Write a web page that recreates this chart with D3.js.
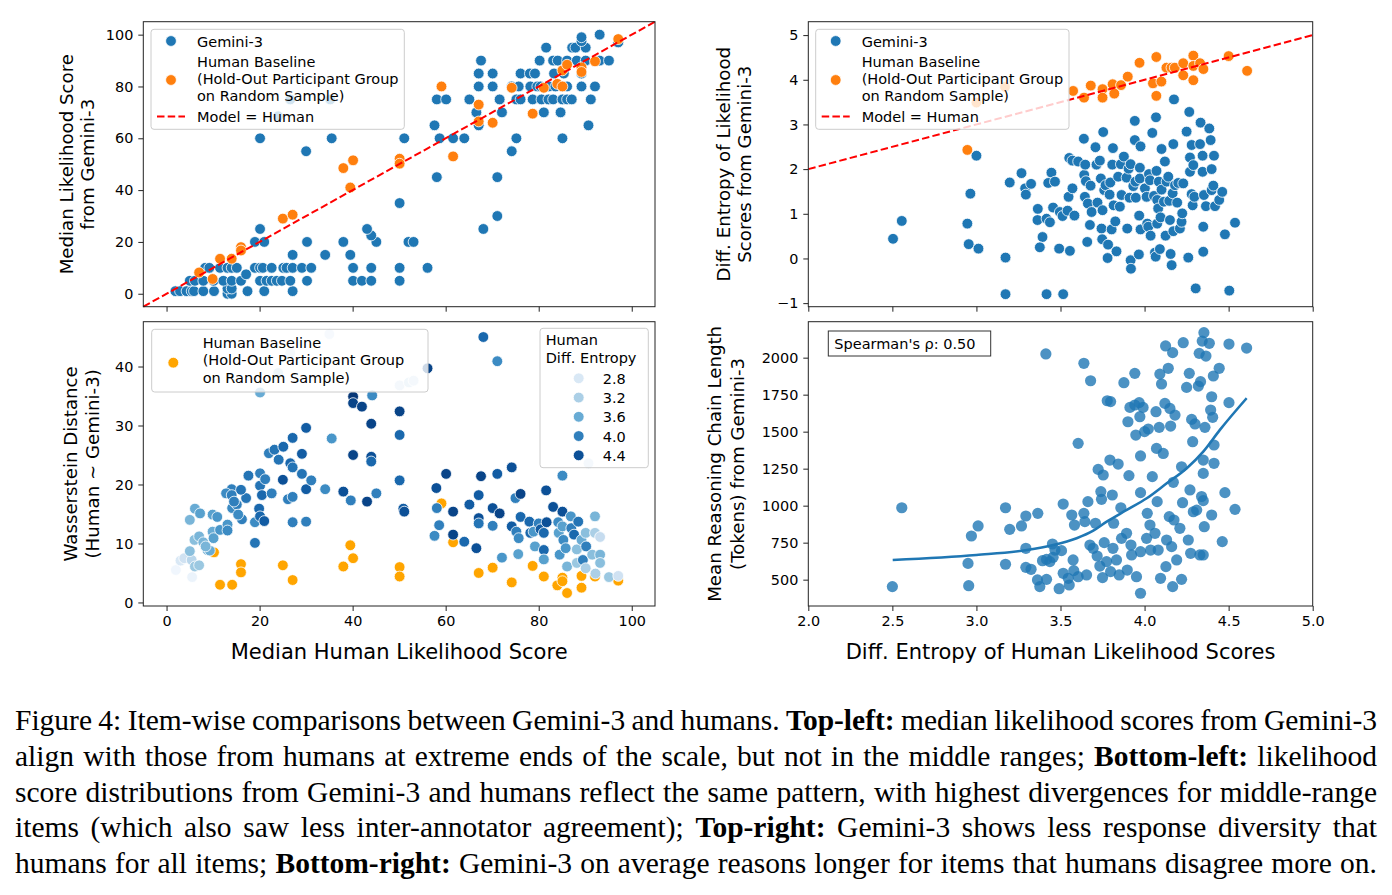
<!DOCTYPE html>
<html>
<head>
<meta charset="utf-8">
<script src="https://cdn.jsdelivr.net/npm/d3@7"></script>
<style>
body { margin: 0; background: #fff; width: 1392px; height: 895px; overflow: hidden; position: relative; }
#chart { position: absolute; left: 0; top: 0; }
#caption { position: absolute; left: 15px; top: 703px; width: 1362px;
  font-family: "Liberation Serif", "Times New Roman", serif; font-size: 29.5px; line-height: 35.8px; color: #000; }
#caption div { text-align: justify; text-align-last: justify; word-spacing: -2px; }
</style>
</head>
<body>
<div id="chart"></div>
<div id="caption"></div>
<script>
// ---------- data ----------
// Top-left: median human score vs median Gemini-3 score
const tlGemini = [
  [1.9,1],[2.9,1],[4.3,1],[5.4,1],[5.9,1],[7.9,1],[10.2,1],[13.1,0],[14,0],[13.1,2],[14,2],[17.4,1],[21,1],[27.1,1],
  [5,5],[6.1,5],[7.9,5],[10.1,5],[12.2,5],[14,5],[16,5],[20.1,5],[21.5,5],[22.6,5],[23.7,5],[24.8,5],[26.6,5],[30.2,5],[40.1,5],[42,5],[44,5],[50.1,5],
  [8.3,10],[9.2,10],[11.5,10],[13.1,10],[14,10],[15.1,10],[19,10],[20.1,10],[20.7,10],[22.6,10],[25.1,10],[25.8,10],[27.1,10],[29.1,10],[31.1,10],[40.1,10],[44,10],[50.1,10],[56.1,10],
  [17.1,7.5],[27.1,15],[34.1,15],[39.5,15],
  [19,20],[21,20],[30.2,20],[38,20],[45.1,20],[52,20],[53.1,20],[44,22.5],[20.1,25],[43.1,25],[68.1,25],
  [71.1,30],[50.1,35],[58.1,45],[71.1,45],[30,55],[74.2,55],
  [20.1,60],[35.5,60],[51.1,60],[58.7,60],[61.6,60],[64,60],[75.2,60],[85.1,60],
  [57.6,65],[67.1,65],[90.7,65],[24,68.5],
  [66.6,70],[72.1,70],[81.1,70],[84.7,70],
  [26.6,75],[35.2,75],[58.1,75],[60.1,75],[65.1,75],[71.6,75],[75.2,75],[76.1,75],[78.7,75],[80.6,75],[82.1,75],[83.1,75],[85.1,75],[86.1,75],[87.1,75],[91.2,75],
  [67.1,80],[70.1,80],[74.2,80],[75.7,80],[78.2,80],[79.7,80],[80.4,80],[82.2,80],[83.6,80],[85.1,80],[86.1,80],[89.2,80],[92.1,80],
  [67.1,85],[70.1,85],[76.1,85],[78.1,85],[79.2,85],[83.3,85],[85.4,85],[89.2,85],
  [67.6,90],[80.2,90],[83.1,90],[84.1,90],[86.1,90],[88.2,90],[90.1,90],[93.1,90],[95.1,90],
  [81.6,95],[87.2,95],[87.9,95],[90.1,95],[89.2,97.5],[89.2,99],[93.1,100],[97.1,97]
];
const tlHuman = [
  [7,8.2],[9.9,5.7],[11.5,13.5],[14,13.5],[16,18],[16,16.7],[25,29],[27.1,30.5],[38,48.5],[40.1,51.5],[39.5,41],
  [50.1,52.1],[50.1,50.2],[59.1,80],[61.6,53],[67.1,73],[67.1,66.5],[70.1,66],[74.2,79.5],[78.7,69.5],[81.1,79.5],
  [84,81],[85.1,80],[85.1,86.2],[86.1,88.4],[89.2,87.4],[89.2,85.6],[92.1,89.7],[97.1,98.3]
];

// Top-right: human diff. entropy vs Gemini-3 diff. entropy
const trGemini = [
  [2.504,0.44],[2.556,0.84],[2.946,0.78],[2.954,0.32],[2.964,1.45],[3.0,2.30],[3.012,0.22],[3.173,0.02],[3.173,-0.80],
  [3.198,1.70],[3.268,1.91],[3.29,1.57],[3.294,1.43],[3.325,1.67],[3.365,1.11],[3.363,0.86],[3.393,0.48],[3.377,0.25],
  [3.417,0.89],[3.417,-0.80],[3.437,0.81],[3.446,1.92],[3.427,1.69],[3.467,1.72],[3.456,1.14],[3.496,1.04],[3.492,0.22],
  [3.512,0.95],[3.516,-0.80],[3.542,1.07],[3.556,0.17],[3.548,1.38],[3.552,2.25],[3.571,2.19],[3.571,1.57],[3.583,0.96],
  [3.605,2.17],[3.639,2.68],[3.641,1.87],[3.647,2.10],[3.651,1.73],[3.645,1.38],[3.659,0.37],[3.663,1.23],[3.675,0.75],
  [3.679,1.63],[3.685,1.04],[3.708,2.49],[3.714,2.10],[3.72,1.25],[3.734,2.19],[3.74,1.79],[3.744,0.67],[3.748,0.43],
  [3.75,1.08],[3.754,2.83],[3.76,1.53],[3.768,1.64],[3.783,0.31],[3.78,0.01],[3.792,1.43],[3.796,1.70],[3.804,0.65],
  [3.808,2.10],[3.812,2.47],[3.816,1.19],[3.826,0.83],[3.833,0.16],[3.843,1.83],[3.853,1.16],[3.859,2.11],[3.863,1.42],
  [3.877,2.28],[3.893,1.81],[3.897,0.67],[3.905,2.01],[3.911,1.36],[3.917,2.11],[3.917,-0.04],[3.919,-0.23],[3.933,1.62],
  [3.942,2.65],[3.942,3.08],[3.946,1.72],[3.948,1.36],[3.968,0.96],[3.966,0.09],[3.972,2.03],[3.972,1.79],[3.976,2.51],
  [3.976,0.65],[4.002,1.57],[4.012,1.38],[4.016,0.78],[4.022,0.71],[4.026,1.89],[4.032,1.75],[4.036,0.51],[4.046,2.81],
  [4.056,1.40],[4.062,0.13],[4.066,0.04],[4.068,3.16],[4.071,1.96],[4.075,1.31],[4.075,0.78],[4.081,1.12],[4.085,1.72],
  [4.091,0.21],[4.095,0.92],[4.101,2.45],[4.101,1.54],[4.115,1.27],[4.121,2.17],[4.125,0.51],[4.131,1.72],[4.141,1.83],
  [4.147,1.29],[4.151,0.86],[4.155,0.10],[4.161,-0.15],[4.167,1.46],[4.171,2.56],[4.175,3.56],[4.171,0.61],[4.181,1.64],
  [4.194,1.25],[4.2,1.69],[4.21,0.67],[4.22,0.82],[4.224,1.01],[4.23,1.68],[4.25,2.84],[4.26,0.02],[4.266,3.28],
  [4.27,1.94],[4.27,2.26],[4.28,2.54],[4.28,1.44],[4.286,1.19],[4.29,2.09],[4.296,1.38],[4.304,-0.67],[4.33,2.56],
  [4.333,3.04],[4.345,2.30],[4.345,1.94],[4.349,0.71],[4.349,0.15],[4.353,1.42],[4.365,1.17],[4.385,2.91],[4.393,2.65],
  [4.399,2.0],[4.399,1.53],[4.409,1.63],[4.413,2.30],[4.419,1.17],[4.444,1.31],[4.462,1.49],[4.478,0.54],[4.504,-0.72],
  [4.538,0.80]
];
const trHuman = [
  [2.946,2.43],[3.0,3.49],[3.17,3.84],[3.575,3.75],[3.64,3.60],[3.68,3.87],[3.75,3.79],[3.75,3.60],[3.81,3.90],
  [3.82,3.69],[3.86,3.88],[3.90,4.07],[3.97,4.38],[4.05,3.92],[4.07,3.64],[4.07,4.51],[4.10,3.96],[4.13,4.27],
  [4.16,4.27],[4.18,4.27],[4.23,4.37],[4.23,4.10],[4.29,4.54],[4.29,4.31],[4.29,3.99],[4.33,4.37],[4.35,4.24],
  [4.50,4.53],[4.61,4.20]
];

// Bottom-left: median human score, Wasserstein distance, human diff. entropy
const blGemini = [
  [2.0,5.5,2.55],[3.0,7.1,2.8],[3.8,7.5,2.9],[5.5,4.3,2.6],[5.4,7.2,3.1],[6.1,6.1,3.3],[7.0,6.3,3.3],[5.0,8.7,3.4],
  [6.0,10.6,3.4],[7.0,11.2,3.5],[7.9,10.2,3.5],[8.8,8.9,3.6],[9.3,8.8,3.6],[8.4,9.5,3.5],[5.0,14.0,3.5],[6.1,15.9,3.6],
  [7.2,15.1,3.7],[9.9,14.9,3.7],[10.9,14.5,3.8],[9.9,12.0,3.6],[10.1,10.9,3.7],[11.5,12.3,3.8],[13.1,13.2,3.8],
  [13.1,12.2,3.9],[14.1,16.0,3.9],[14.0,19.2,4.0],[12.8,18.5,3.9],[15.1,16.6,4.0],[16.2,14.1,4.0],[17.1,17.7,4.1],
  [16.0,19.1,4.1],[14.0,18.2,4.0],[14.5,17.1,4.0],[15.4,14.9,3.9],[17.6,21.5,4.1],[19.0,13.6,3.9],[19.0,10.1,4.1],
  [20.1,21.9,4.0],[20.1,19.8,4.1],[20.5,18.2,4.2],[21.2,20.9,4.0],[19.9,15.9,4.2],[20.1,14.6,4.2],[21.0,13.8,4.3],
  [22.6,18.5,4.0],[22.0,25.3,4.0],[23.2,25.9,4.1],[24.1,24.2,4.1],[25.1,26.4,4.2],[25.0,20.8,4.4],[26.6,23.6,4.2],
  [27.1,22.9,4.1],[27.1,27.9,4.2],[26.1,17.5,4.0],[27.1,17.9,4.0],[27.1,13.6,4.0],[29.1,25.2,4.3],[29.1,21.8,4.1],
  [30.0,29.6,4.3],[30.0,19.2,4.3],[30.0,13.7,4.0],[31.1,20.7,4.0],[34.1,19.2,3.9],[35.5,27.8,3.8],[38.0,18.8,4.4],
  [39.6,17.3,4.0],[40.1,34.9,4.6],[40.1,33.8,4.5],[42.0,33.2,4.5],[44.2,35.1,3.9],[44.0,30.3,4.5],[40.1,25.0,4.5],
  [44.0,24.7,4.4],[44.0,23.9,4.2],[43.1,17.1,4.5],[45.1,18.5,4.0],[50.1,32.4,4.5],[50.1,28.4,4.2],[50.1,20.7,4.2],
  [50.9,15.9,4.3],[51.1,15.4,4.4],[20.1,35.6,3.6],[35.0,45.5,2.9],[26.6,42.3,3.0],[24.0,38.9,3.2],[50.1,36.8,3.0],
  [52.1,37.3,3.1],[53.1,37.6,3.0],[56.1,39.7,4.5],[68.1,45.0,4.2],[71.1,40.9,3.9],[60.1,21.8,4.5],[58.0,19.4,4.4],
  [58.1,16.0,4.0],[58.6,13.1,4.0],[57.6,11.3,3.9],[61.6,15.4,4.5],[61.6,11.5,4.5],[64.0,10.3,4.2],[65.1,16.6,4.3],
  [66.6,9.2,4.4],[67.1,18.2,4.3],[67.1,14.3,4.4],[67.1,13.4,4.1],[67.6,21.4,4.5],[70.1,16.0,4.4],[70.1,13.0,4.0],
  [71.1,21.8,4.3],[71.6,15.1,4.5],[72.1,7.6,3.8],[74.2,22.9,4.4],[74.2,12.9,4.3],[75.0,17.7,4.0],[76.1,18.4,4.5],
  [75.2,12.0,4.0],[75.7,10.9,3.9],[75.6,8.2,3.7],[76.1,14.5,4.2],[78.0,13.7,4.2],[78.2,11.8,4.2],[78.9,12.0,3.8],
  [79.2,9.5,3.7],[80.0,13.4,4.0],[80.4,12.4,4.3],[81.1,11.8,4.2],[81.1,8.9,4.2],[81.1,7.3,3.7],[81.6,19.0,4.4],
  [81.7,13.6,4.4],[83.1,16.2,4.4],[84.2,13.6,3.9],[84.3,11.8,3.7],[84.5,8.1,3.8],[85.1,21.5,3.9],[85.1,15.4,4.4],
  [85.1,12.9,3.7],[85.3,10.6,3.9],[85.8,9.2,3.8],[86.1,6.1,3.5],[86.9,14.6,3.8],[87.0,12.6,4.0],[87.6,11.5,4.2],
  [88.2,9.0,3.4],[88.2,6.7,3.3],[88.5,13.7,4.1],[89.2,10.6,3.6],[89.5,7.2,4.0],[90.1,11.8,3.4],[90.1,5.8,3.2],
  [90.2,9.5,4.0],[90.7,23.6,3.0],[91.5,8.1,3.4],[92.1,14.6,3.5],[92.1,11.8,3.2],[92.2,4.9,3.2],[93.2,11.1,3.0],
  [93.2,8.1,3.5],[93.2,6.7,3.4],[95.1,4.3,3.3],[97.1,4.5,2.9]
];
const blHuman = [
  [10.2,8.5],[11.5,3.0],[14.1,3.0],[16.0,6.5],[16.0,5.1],[25.0,6.3],[27.1,3.8],[38.0,6.1],[39.5,9.7],[40.1,7.5],
  [50.1,6.0],[50.1,4.4],[59.1,16.8],[61.6,10.2],[67.1,5.0],[70.1,5.9],[74.2,3.4],[78.7,6.2],[81.1,4.4],[84.0,2.9],
  [85.1,4.2],[85.1,3.6],[86.1,1.6],[89.2,2.5],[89.2,4.5],[92.1,4.4],[97.1,3.7]
];
const entropyLegend = [2.8, 3.2, 3.6, 4.0, 4.4];

// Bottom-right: human diff. entropy vs mean reasoning length
const brPoints = [
  [2.5,453],[2.556,986],[2.95,610],[2.954,459],[2.97,795],[3.01,863],[3.173,986],[3.173,604],[3.198,840],[3.268,863],
  [3.294,930],[3.294,712],[3.294,583],[3.325,570],[3.365,948],[3.363,498],[3.377,453],[3.393,628],[3.417,637],[3.417,502],
  [3.413,2025],[3.437,622],[3.452,741],[3.456,651],[3.467,700],[3.492,439],[3.506,696],[3.516,1011],[3.516,543],[3.546,509],
  [3.552,464],[3.567,937],[3.575,633],[3.579,561],[3.583,869],[3.605,1421],[3.605,520],[3.639,1962],[3.639,948],[3.645,892],
  [3.655,532],[3.663,1027],[3.675,734],[3.679,1844],[3.694,712],[3.708,881],[3.718,660],[3.724,1245],[3.734,592],[3.74,1095],
  [3.744,1043],[3.75,514],[3.754,1207],[3.76,750],[3.774,622],[3.778,1709],[3.798,1703],[3.794,1308],[3.798,554],[3.808,1072],
  [3.812,712],[3.816,881],[3.833,633],[3.843,1281],[3.849,532],[3.859,986],[3.863,779],[3.877,1831],[3.893,813],[3.897,565],
  [3.901,1567],[3.907,1203],[3.913,1664],[3.919,734],[3.923,667],[3.942,1894],[3.942,1680],[3.948,1477],[3.952,520],[3.968,1696],
  [3.972,1601],[3.976,1336],[3.976,1088],[3.976,689],[3.976,408],[3.991,1664],[4.0,1500],[4.012,779],[4.016,948],[4.022,1518],
  [4.032,869],[4.036,700],[4.046,1196],[4.062,813],[4.068,1635],[4.071,1387],[4.075,1027],[4.081,700],[4.087,1529],[4.091,1889],
  [4.095,509],[4.101,1822],[4.111,1353],[4.121,1691],[4.125,2079],[4.127,588],[4.131,768],[4.141,1928],[4.147,926],[4.151,1657],
  [4.155,1538],[4.161,723],[4.167,2034],[4.167,453],[4.171,1158],[4.175,903],[4.181,1612],[4.191,633],[4.21,847],[4.22,1263],
  [4.22,502],[4.226,1020],[4.23,2101],[4.25,1799],[4.26,768],[4.266,1894],[4.27,1106],[4.274,678],[4.28,1583],[4.286,1432],
  [4.29,959],[4.3,1552],[4.31,970],[4.32,1808],[4.325,2029],[4.329,667],[4.333,1838],[4.339,1062],[4.343,2112],[4.349,1218],
  [4.349,1308],[4.349,667],[4.349,1034],[4.353,2169],[4.355,858],[4.359,1529],[4.365,2011],[4.385,2097],[4.393,1646],[4.399,1736],
  [4.399,937],[4.405,1597],[4.409,1876],[4.413,1410],[4.413,1286],[4.444,1928],[4.462,757],[4.478,1088],[4.502,1696],[4.502,2092],
  [4.538,975],[4.607,2065]
];
// smoothed trend line drawn over the scatter
const brTrend = [
  [2.502,633],[3.0,667],[3.30,700],[3.457,734],[3.596,780],[3.695,831],[3.775,892],[3.894,971],[4.013,1050],
  [4.132,1151],[4.251,1253],[4.349,1365],[4.448,1512],[4.607,1726]
];
const spearmanRho = 0.50;

const ticksScore = [0, 20, 40, 60, 80, 100];
const ticksEntropyX = [2.0, 2.5, 3.0, 3.5, 4.0, 4.5, 5.0];
const ticksTR = [-1, 0, 1, 2, 3, 4, 5];
const ticksBL = [0, 10, 20, 30, 40];
const ticksBR = [500, 750, 1000, 1250, 1500, 1750, 2000];

// ---------- drawing ----------
const FONT = "DejaVu Sans";
const BLUE = "#1f77b4", ORANGE = "#ff7f0e", ORANGE2 = "#ffa500";
const W = 1392, H = 895;
const TICK_FS = 14.4, LEG_FS = 14.5;

const svg = d3.select("#chart").append("svg")
    .attr("width", W).attr("height", H)
    .style("font-family", FONT);

const minusFmt = d => (d < 0 ? "\u2212" + Math.abs(d) : String(d));

function makePanel(p) {
    const x = d3.scaleLinear().domain(p.xDomain).range([p.left, p.right]);
    const y = d3.scaleLinear().domain(p.yDomain).range([p.bottom, p.top]);
    const g = svg.append("g");

    const xAxis = d3.axisBottom(x).tickValues(p.xTicks).tickSize(5).tickPadding(5)
        .tickFormat(p.showXLabels ? p.xFormat : () => "");
    g.append("g").attr("transform", `translate(0,${p.bottom})`).call(xAxis)
        .call(a => a.select(".domain").remove())
        .call(a => a.selectAll("text").attr("font-size", TICK_FS).attr("font-family", FONT).attr("fill", "#000"))
        .call(a => a.selectAll("line").attr("stroke", "#222"));

    const yAxis = d3.axisLeft(y).tickValues(p.yTicks).tickSize(5).tickPadding(5).tickFormat(p.yFormat);
    g.append("g").attr("transform", `translate(${p.left},0)`).call(yAxis)
        .call(a => a.select(".domain").remove())
        .call(a => a.selectAll("text").attr("font-size", TICK_FS).attr("font-family", FONT).attr("fill", "#000"))
        .call(a => a.selectAll("line").attr("stroke", "#222"));

    // y label (two lines, rotated)
    p.yLabel.forEach((t, i) => {
        g.append("text")
            .attr("transform", `translate(${p.yLabelX[i]},${(p.top + p.bottom) / 2}) rotate(-90)`)
            .attr("text-anchor", "middle").attr("dominant-baseline", "central")
            .attr("font-size", 18.2).attr("fill", "#000").text(t);
    });
    if (p.xLabel) {
        g.append("text").attr("x", (p.left + p.right) / 2).attr("y", 659)
            .attr("text-anchor", "middle").attr("font-size", 21).attr("fill", "#000").text(p.xLabel);
    }
    const plot = g.append("g");
    return { x, y, g, plot, p };
}

function frame(P) {
    const p = P.p;
    P.g.append("rect").attr("x", p.left).attr("y", p.top)
        .attr("width", p.right - p.left).attr("height", p.bottom - p.top)
        .attr("fill", "none").attr("stroke", "#222").attr("stroke-width", 1);
}

function dots(P, data, color, opts = {}) {
    P.plot.append("g").selectAll("circle").data(data).join("circle")
        .attr("cx", d => P.x(d[0])).attr("cy", d => P.y(d[1]))
        .attr("r", opts.r || 5.4)
        .attr("fill", typeof color === "function" ? color : () => color)
        .attr("fill-opacity", opts.opacity || 1)
        .attr("stroke", opts.noEdge ? "none" : "#fff")
        .attr("stroke-width", 0.8);
}

function legendBox(g, x, y, w, h, rect) {
    g.append("rect").attr("x", x).attr("y", y).attr("width", w).attr("height", h)
        .attr("rx", rect ? 0 : 3)
        .attr("fill", "#fff").attr("fill-opacity", rect ? 1 : 0.8)
        .attr("stroke", rect ? "#333" : "#cccccc").attr("stroke-width", 1);
}

function legendText(g, x, y, t, size) {
    g.append("text").attr("x", x).attr("y", y).attr("dominant-baseline", "central")
        .attr("font-size", size || LEG_FS).attr("fill", "#000").text(t);
}

function legendDot(g, x, y, color) {
    g.append("circle").attr("cx", x).attr("cy", y).attr("r", 5.4)
        .attr("fill", color).attr("stroke", "#fff").attr("stroke-width", 0.8);
}

function modelHumanLegend(g, dx) {
    legendBox(g, 151 + dx, 29.3, 253.3, 100);
    legendDot(g, 171 + dx, 41, BLUE);
    legendText(g, 197 + dx, 41.5, "Gemini-3");
    legendDot(g, 171 + dx, 80, ORANGE);
    legendText(g, 197 + dx, 62, "Human Baseline");
    legendText(g, 197 + dx, 79, "(Hold-Out Participant Group");
    legendText(g, 197 + dx, 95.5, "on Random Sample)");
    g.append("line").attr("x1", 157 + dx).attr("x2", 185 + dx).attr("y1", 116.5).attr("y2", 116.5)
        .attr("stroke", "red").attr("stroke-width", 2).attr("stroke-dasharray", "7.5,3.2");
    legendText(g, 197 + dx, 116.5, "Model = Human");
}

function diagonal(P, a, b) {
    P.plot.append("line")
        .attr("x1", P.x(a)).attr("y1", P.y(a)).attr("x2", P.x(b)).attr("y2", P.y(b))
        .attr("stroke", "red").attr("stroke-width", 2).attr("stroke-dasharray", "7.5,3.2");
}

// ---- Top-left ----
const TL = makePanel({
    left: 143.3, right: 655, top: 21.7, bottom: 306.7,
    xDomain: [-5, 105], yDomain: [-5, 105],
    xTicks: ticksScore, yTicks: ticksScore, showXLabels: false,
    yFormat: d => d, yLabel: ["Median Likelihood Score", "from Gemini-3"], yLabelX: [66.7, 87.3]
});
dots(TL, tlGemini, BLUE);
dots(TL, tlHuman, ORANGE);
diagonal(TL, -5, 105);
modelHumanLegend(TL.g, 0);
frame(TL);

// ---- Top-right ----
const TR = makePanel({
    left: 808.3, right: 1312.7, top: 21.7, bottom: 306.7,
    xDomain: [2, 5], yDomain: [-1.08, 5.3],
    xTicks: ticksEntropyX, yTicks: ticksTR, showXLabels: false,
    yFormat: minusFmt, yLabel: ["Diff. Entropy of Likelihood", "Scores from Gemini-3"], yLabelX: [723.5, 744.5]
});
dots(TR, trGemini, BLUE);
dots(TR, trHuman, ORANGE);
diagonal(TR, 2, 5);
modelHumanLegend(TR.g, 664.7);
frame(TR);

// ---- Bottom-left ----
const BL = makePanel({
    left: 143.3, right: 655, top: 321.7, bottom: 606,
    xDomain: [-5, 105], yDomain: [-0.6, 47.6],
    xTicks: ticksScore, yTicks: ticksBL, showXLabels: true, xFormat: d => d,
    yFormat: d => d, yLabel: ["Wasserstein Distance", "(Human ~ Gemini-3)"], yLabelX: [70.5, 92],
    xLabel: "Median Human Likelihood Score"
});
const hue = d3.scaleSequential(d3.interpolateBlues).domain([2.47, 4.67]);
dots(BL, blHuman, ORANGE2);
dots(BL, blGemini, d => hue(d[2]));
// legends
legendBox(BL.g, 151.7, 329.3, 276.3, 62.7);
legendDot(BL.g, 173.3, 362.7, ORANGE2);
legendText(BL.g, 202.7, 343, "Human Baseline");
legendText(BL.g, 202.7, 360.3, "(Hold-Out Participant Group");
legendText(BL.g, 202.7, 377.5, "on Random Sample)");
legendBox(BL.g, 540, 328.3, 108.3, 139.4);
legendText(BL.g, 545.7, 340, "Human");
legendText(BL.g, 545.7, 358.3, "Diff. Entropy");
entropyLegend.forEach((e, i) => {
    const yy = 378.3 + i * 19.25;
    legendDot(BL.g, 578.7, yy, hue(e));
    legendText(BL.g, 602.7, yy + 0.5, e.toFixed(1));
});
frame(BL);

// ---- Bottom-right ----
const BR = makePanel({
    left: 808.3, right: 1312.7, top: 321.7, bottom: 606,
    xDomain: [2, 5], yDomain: [322, 2243],
    xTicks: ticksEntropyX, yTicks: ticksBR, showXLabels: true, xFormat: d3.format(".1f"),
    yFormat: d => d, yLabel: ["Mean Reasoning Chain Length", "(Tokens) from Gemini-3"], yLabelX: [714.5, 737],
    xLabel: "Diff. Entropy of Human Likelihood Scores"
});
dots(BR, brPoints, BLUE, { opacity: 0.8, noEdge: true, r: 5.6 });
BR.plot.append("path").datum(brTrend)
    .attr("d", d3.line().x(d => BR.x(d[0])).y(d => BR.y(d[1])).curve(d3.curveMonotoneX))
    .attr("fill", "none").attr("stroke", BLUE).attr("stroke-width", 2.6);
legendBox(BR.g, 828.3, 331, 162.4, 25, true);
legendText(BR.g, 834.3, 343.8, "Spearman's \u03c1: " + spearmanRho.toFixed(2));
frame(BR);

// ---------- caption ----------
const captionLines = [
    'Figure 4: Item-wise comparisons between Gemini-3 and humans. <b>Top-left:</b> median likelihood scores from Gemini-3',
    'align with those from humans at extreme ends of the scale, but not in the middle ranges; <b>Bottom-left:</b> likelihood',
    'score distributions from Gemini-3 and humans reflect the same pattern, with highest divergences for middle-range',
    'items (which also saw less inter-annotator agreement); <b>Top-right:</b> Gemini-3 shows less response diversity that',
    'humans for all items; <b>Bottom-right:</b> Gemini-3 on average reasons longer for items that humans disagree more on.'
];
d3.select("#caption").selectAll("div").data(captionLines).join("div").html(d => d);
</script>
</body>
</html>
